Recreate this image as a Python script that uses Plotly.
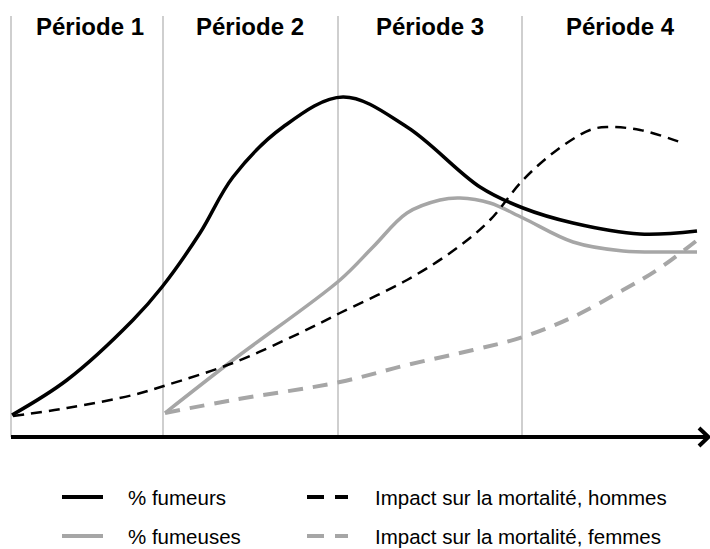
import plotly.graph_objects as go

periodes = ["Période 1", "Période 2", "Période 3", "Période 4"]
periode_centres = [90, 250, 430, 620]
periode_limites = [11, 163, 338, 522]

fumeurs_x = [12, 67, 133, 162, 200, 233, 283, 343, 407, 480, 523, 573, 640, 697]
fumeurs_y = [22, 57, 117, 150, 204, 260, 310, 340, 310, 250, 229, 214, 203, 206]

fumeuses_x = [165, 233, 340, 373, 407, 440, 460, 490, 523, 573, 623, 673, 697]
fumeuses_y = [24, 77, 157, 190, 224, 237, 239, 234, 219, 195, 186, 185, 185]

mort_hommes_x = [13, 67, 133, 167, 233, 300, 340, 407, 457, 490, 523, 557, 590, 607, 640, 683]
mort_hommes_y = [21, 29, 42, 52, 74, 104, 124, 157, 189, 217, 257, 287, 307, 310, 307, 294]

mort_femmes_x = [165, 233, 340, 407, 473, 523, 573, 623, 657, 700]
mort_femmes_y = [24, 37, 55, 72, 87, 100, 120, 147, 167, 199]

NOIR = "#000000"
GRIS = "#a6a6a6"
FONT = "Liberation Sans, Arial, sans-serif"
W, H, BASE = 710, 549, 437

series = [
    ("% fumeurs", fumeurs_x, fumeurs_y, NOIR, 3.5, "solid"),
    ("% fumeuses", fumeuses_x, fumeuses_y, GRIS, 3.5, "solid"),
    ("Impact sur la mortalité, hommes", mort_hommes_x, mort_hommes_y, NOIR, 2.5, "11px,7px"),
    ("Impact sur la mortalité, femmes", mort_femmes_x, mort_femmes_y, GRIS, 4, "15px,10px"),
]

fig = go.Figure()
for name, xs, ys, col, w, dash in series:
    fig.add_trace(go.Scatter(x=xs, y=ys, mode="lines", name=name,
                             line=dict(color=col, width=w, dash=dash, shape="spline", smoothing=1.0),
                             showlegend=False, hoverinfo="skip"))

shapes = []
annotations = []

# period separators
for xv in periode_limites:
    shapes.append(dict(type="line", xref="x", yref="y", x0=xv, x1=xv, y0=0, y1=BASE - 16,
                       line=dict(color="#bfbfbf", width=1.5), layer="below"))

py = lambda p: (BASE - p) / BASE

# period titles
for lab, xc in zip(periodes, periode_centres):
    annotations.append(dict(text="<b>%s</b>" % lab, x=xc / W, y=py(26),
                            xref="paper", yref="paper", showarrow=False,
                            xanchor="center", yanchor="middle",
                            font=dict(family=FONT, size=24, color=NOIR)))

# time axis arrow
shapes.append(dict(type="line", xref="paper", yref="paper", x0=11 / W, x1=708 / W,
                   y0=py(437), y1=py(437), line=dict(color=NOIR, width=4)))
shapes.append(dict(type="path", xref="paper", yref="paper",
                   path="M %f,%f L %f,%f L %f,%f" % (699 / W, py(428), 708.5 / W, py(437), 699 / W, py(446)),
                   line=dict(color=NOIR, width=4)))

# legend
leg = [
    (62, 103, 497, 126, series[0]),
    (62, 103, 536, 126, series[1]),
    (307, 348, 497, 373, series[2]),
    (307, 348, 536, 373, series[3]),
]
for x0, x1, yy, tx, (name, _, _, col, w, dash) in leg:
    if dash == "solid":
        shapes.append(dict(type="line", xref="paper", yref="paper", x0=x0 / W, x1=x1 / W,
                           y0=py(yy), y1=py(yy), line=dict(color=col, width=4)))
    else:
        shapes.append(dict(type="line", xref="paper", yref="paper", x0=x0 / W, x1=(x0 + 17) / W,
                           y0=py(yy), y1=py(yy), line=dict(color=col, width=4)))
        shapes.append(dict(type="line", xref="paper", yref="paper", x0=(x1 - 13) / W, x1=x1 / W,
                           y0=py(yy), y1=py(yy), line=dict(color=col, width=4)))
    annotations.append(dict(text=name, x=tx / W, y=py(yy), xref="paper", yref="paper",
                            showarrow=False, xanchor="left", yanchor="middle",
                            font=dict(family=FONT, size=20.5, color=NOIR)))

fig.update_layout(
    width=W, height=H,
    margin=dict(l=0, r=0, t=0, b=H - BASE),
    paper_bgcolor="white", plot_bgcolor="white",
    xaxis=dict(range=[0, W], visible=False, fixedrange=True),
    yaxis=dict(range=[0, BASE], visible=False, fixedrange=True),
    shapes=shapes, annotations=annotations,
    showlegend=False,
)

# page body has an 8px default margin; drop it so the figure fills the window
fig.write_html("out.html", config={"displayModeBar": False},
               post_script="document.body.style.margin='0';document.body.style.overflow='hidden';")
